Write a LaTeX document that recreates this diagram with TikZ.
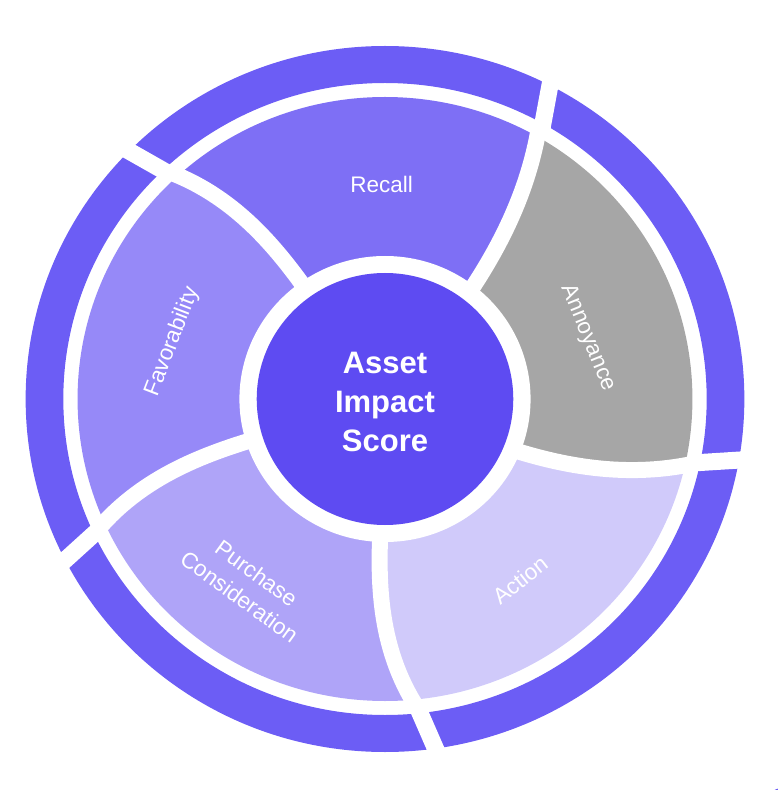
\documentclass[tikz,border=0pt]{standalone}
\usepackage{fontspec}
\setmainfont{Liberation Sans}
\definecolor{ringc}{RGB}{108,93,245}
\definecolor{recallc}{RGB}{126,111,245}
\definecolor{favorc}{RGB}{150,137,248}
\definecolor{purchc}{RGB}{175,164,248}
\definecolor{actionc}{RGB}{208,202,250}
\definecolor{annoyc}{RGB}{166,166,166}
\definecolor{corec}{RGB}{94,75,242}
\begin{document}
\begin{tikzpicture}[x=1pt,y=1pt,
  lab/.style={text=white, font=\fontsize{22.5}{29}\selectfont, align=center, inner sep=0pt},
  divider/.style={white, line width=16pt},
  ringgap/.style={white, line width=17pt},
  declare function={
    tA(\x)=52+3.2*((\x-130)/100)+0.951*((\x-130)/100)*((\x-130)/100);
    tB(\x)=125.3+2.6*((\x-138)/100)*((\x-138)/100);
    tC(\x)=197.4+2.55*((\x-140)/100)*((\x-140)/100);
    tD(\x)=268+2.7*((\x-140)/100)*((\x-140)/100);
    tE(\x)=338+3.08*((\x-136)/100)+1.52*((\x-136)/100)*((\x-136)/100);
  }]
\useasboundingbox (-385,-391) rectangle (393,399);
\begin{scope}[xscale=1.018]
  % outer ring
  \fill[ringc, even odd rule] (0,0) circle[radius=353] (0,0) circle[radius=316];
  % segments
  \begin{scope}
    \clip (0,0) circle[radius=302];
    \fill[recallc] (0,0) -- plot[domain=128:310,samples=30,variable=\rr] ({tA(\rr)}:\rr)
      -- (60.84:420) arc[start angle=60.84, end angle=132.99, radius=420]
      -- plot[domain=310:128,samples=30,variable=\rr] ({tB(\rr)}:\rr) -- cycle;
    \fill[favorc] (0,0) -- plot[domain=128:310,samples=30,variable=\rr] ({tB(\rr)}:\rr)
      -- (132.99:420) arc[start angle=132.99, end angle=204.77, radius=420]
      -- plot[domain=310:128,samples=30,variable=\rr] ({tC(\rr)}:\rr) -- cycle;
    \fill[purchc] (0,0) -- plot[domain=128:310,samples=30,variable=\rr] ({tC(\rr)}:\rr)
      -- (204.77:420) arc[start angle=204.77, end angle=275.8, radius=420]
      -- plot[domain=310:128,samples=30,variable=\rr] ({tD(\rr)}:\rr) -- cycle;
    \fill[actionc] (0,0) -- plot[domain=128:310,samples=30,variable=\rr] ({tD(\rr)}:\rr)
      -- (275.8:420) arc[start angle=275.8, end angle=347.96, radius=420]
      -- plot[domain=310:128,samples=30,variable=\rr] ({tE(\rr)}:\rr) -- cycle;
    \fill[annoyc] (0,0) -- plot[domain=128:310,samples=30,variable=\rr] ({tE(\rr)}:\rr)
      -- (347.96:420) arc[start angle=347.96, end angle=420.84, radius=420]
      -- plot[domain=310:128,samples=30,variable=\rr] ({tA(\rr)}:\rr) -- cycle;
  \end{scope}
  \fill[white] (0,0) circle[radius=143];
  \fill[corec] (0,0) circle[radius=126];
  % white dividers between segments
  \draw[divider] plot[domain=128:312,samples=30,variable=\rr] ({tA(\rr)}:\rr);
  \draw[divider] plot[domain=128:312,samples=30,variable=\rr] ({tB(\rr)}:\rr);
  \draw[divider] plot[domain=128:312,samples=30,variable=\rr] ({tC(\rr)}:\rr);
  \draw[divider] plot[domain=128:312,samples=30,variable=\rr] ({tD(\rr)}:\rr);
  \draw[divider] plot[domain=128:312,samples=30,variable=\rr] ({tE(\rr)}:\rr);
  % gaps in the outer ring
  \coordinate (g1a) at (60.1:308);  \coordinate (g1b) at (63.4:368);
  \coordinate (g2a) at (133.2:308); \coordinate (g2b) at (136:368);
  \coordinate (g3a) at (204.8:308); \coordinate (g3b) at (207.8:368);
  \coordinate (g4a) at (275.8:308); \coordinate (g4b) at (278.7:368);
  \coordinate (g5a) at (348:308);   \coordinate (g5b) at (350.6:368);
  \draw[ringgap] (g1a) -- (g1b);
  \draw[ringgap] (g2a) -- (g2b);
  \draw[ringgap] (g3a) -- (g3b);
  \draw[ringgap] (g4a) -- (g4b);
  \draw[ringgap] (g5a) -- (g5b);
\end{scope}
% small fragment at the bottom-right corner
\fill[ringc] (397,-404) circle[radius=15];
% labels
\node[lab] (recall) at (-3.3,214.5) {Recall};
\node[lab, rotate=69] (favor) at (-212.5,57) {Favorability};
\node[lab, rotate=-68] (annoy) at (203,61) {Annoyance};
\node[lab, rotate=38] (action) at (135,-181) {Action};
\node[lab, rotate=-36] (purch) at (-137,-186) {Purchase\\Consideration};
\node[text=white, font=\fontsize{31}{39}\selectfont\bfseries, align=center, inner sep=0pt] (core) at (0,-3) {Asset\\Impact\\Score};
\end{tikzpicture}
\end{document}
